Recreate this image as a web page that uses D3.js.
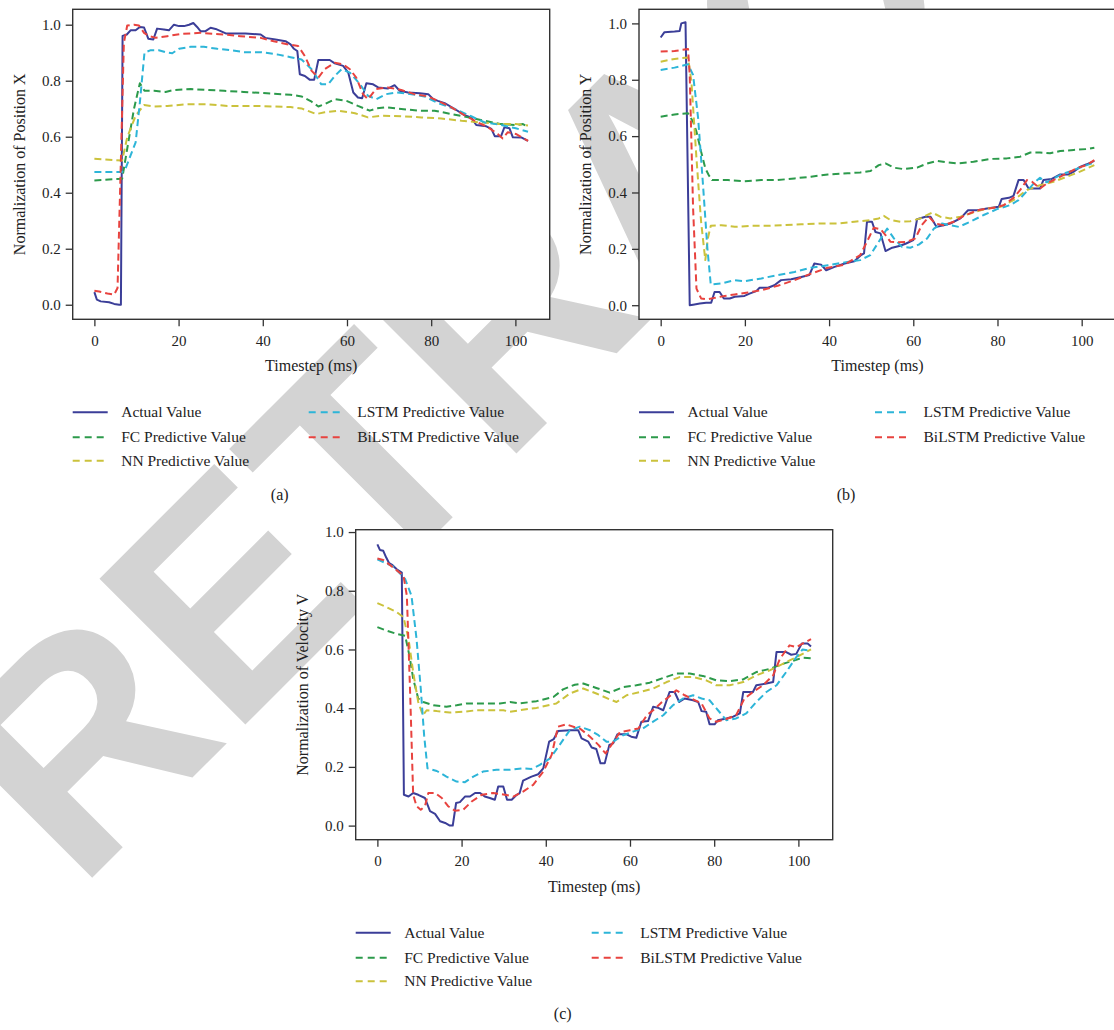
<!DOCTYPE html>
<html>
<head>
<meta charset="utf-8">
<script src="https://cdn.jsdelivr.net/npm/d3@7"></script>
<style>
    body { margin: 0; background: #fff; }
    text { font-family: "Liberation Serif", "Times New Roman", serif; fill: #222; }
</style>
</head>
<body>
<svg id="fig" width="1114" height="1030"></svg>
<script>
// ---- data: [timestep, normalized value] ----
const actualX = [[0,0.045],[0.6,0.018],[1.5,0.012],[3.5,0.009],[4.7,0.003],[5.9,0],[6.3,0],[6.7,0.96],[7.7,0.965],[8.6,0.98],[9.8,0.98],[10.8,0.992],[11.8,0.99],[12.8,0.95],[14,0.947],[14.9,0.986],[16.5,0.983],[17.7,0.98],[18.9,1.0],[20.1,0.995],[21.3,0.995],[22.5,1.0],[23.5,1.006],[24.4,0.992],[25.2,0.977],[26.4,0.977],[27.6,0.989],[28.8,0.985],[30,0.977],[31.2,0.969],[35.9,0.969],[39.5,0.965],[40.6,0.953],[43,0.947],[45.4,0.941],[46.6,0.93],[47.4,0.914],[48.2,0.906],[48.8,0.823],[50,0.817],[51.2,0.803],[52.2,0.803],[53.2,0.874],[55.9,0.874],[57.1,0.862],[59.1,0.853],[60.3,0.829],[61.5,0.758],[62.6,0.74],[63.6,0.737],[64.6,0.791],[66.2,0.787],[67.4,0.776],[69.7,0.772],[71.3,0.784],[72.5,0.764],[74.5,0.758],[77.3,0.755],[79.3,0.752],[80.5,0.734],[81.6,0.728],[83.2,0.72],[85.6,0.699],[87.9,0.677],[89.5,0.669],[90.7,0.642],[93.1,0.637],[94.3,0.628],[95.1,0.602],[96.6,0.602],[97.4,0.634],[98.6,0.63],[99.4,0.598],[101.5,0.597],[103,0.585]];
const fcX = [[0,0.444],[6.6,0.45],[7.8,0.557],[9.4,0.699],[10.8,0.791],[11.9,0.764],[14.2,0.764],[16.9,0.76],[18.9,0.767],[22.9,0.77],[26.8,0.767],[30.8,0.764],[35.5,0.76],[41,0.755],[46.6,0.75],[49.2,0.744],[51.6,0.725],[53.2,0.708],[54.7,0.716],[57.1,0.734],[59.9,0.728],[62.6,0.71],[65.4,0.693],[67,0.701],[69.3,0.705],[72.9,0.699],[76.9,0.693],[80.8,0.693],[84.8,0.681],[88.8,0.669],[92.7,0.657],[96.6,0.645],[100.1,0.642],[101.8,0.645],[103,0.635]];
const nnX = [[0,0.521],[6.6,0.515],[7.8,0.598],[9.8,0.675],[11.8,0.713],[14.2,0.708],[17.3,0.71],[22.1,0.716],[26.8,0.716],[31.6,0.71],[37.9,0.71],[46.6,0.706],[49.2,0.701],[52.7,0.681],[54.7,0.687],[57.9,0.693],[61.9,0.684],[65,0.669],[68.2,0.675],[72.9,0.673],[77.7,0.669],[82.4,0.665],[87.2,0.657],[91.9,0.651],[96.6,0.645],[100.1,0.645],[103,0.64]];
const lstmX = [[0,0.474],[6.6,0.474],[7.4,0.486],[8.6,0.533],[9.8,0.58],[10.8,0.722],[11.9,0.9],[13.4,0.909],[15.3,0.909],[16.9,0.902],[18.5,0.898],[20.1,0.914],[22.9,0.921],[26,0.921],[29.2,0.914],[32.3,0.909],[35.5,0.902],[39.5,0.902],[43.4,0.894],[46.6,0.884],[49.2,0.876],[51.6,0.841],[53.9,0.787],[55.5,0.787],[57.1,0.817],[58.7,0.841],[60.7,0.829],[63.1,0.787],[65,0.746],[67,0.734],[69.3,0.752],[71.7,0.758],[75.3,0.752],[78.4,0.744],[81.6,0.72],[85.6,0.699],[89.5,0.673],[92.7,0.651],[96.6,0.642],[100.1,0.63],[103,0.618]];
const bilstmX = [[0,0.05],[1.1,0.047],[3.1,0.04],[4.7,0.036],[5.5,0.06],[6.2,0.46],[7,0.935],[7.8,0.997],[9.4,1.0],[10.6,0.997],[11.8,0.971],[13,0.959],[14.6,0.953],[17.3,0.959],[20.5,0.967],[25.2,0.971],[30.8,0.965],[34.7,0.959],[39.5,0.953],[42.6,0.941],[45.8,0.93],[48.4,0.924],[50,0.888],[51.6,0.835],[53.2,0.811],[54.7,0.841],[57.1,0.864],[59.1,0.858],[60.7,0.841],[62.2,0.811],[63.8,0.752],[65,0.734],[66.9,0.77],[69.7,0.776],[72.9,0.767],[76,0.752],[79.2,0.744],[81.6,0.728],[84.8,0.705],[87.9,0.677],[91.1,0.651],[93.5,0.634],[95.8,0.61],[97,0.594],[98.2,0.616],[100.1,0.61],[101.8,0.595],[103,0.585]];

const actualY = [[0,0.95],[0.9,0.969],[3.3,0.971],[4.5,0.973],[4.9,1.0],[5.9,1.004],[6.9,0],[7.7,0.002],[9.3,0.006],[10.8,0.009],[12,0.009],[12.8,0.047],[14,0.047],[15,0.024],[16.4,0.024],[17.6,0.03],[19.9,0.033],[21.1,0.041],[22.7,0.05],[23.5,0.062],[25.5,0.062],[27,0.071],[28.6,0.089],[31,0.092],[33.4,0.1],[35.3,0.107],[36.5,0.148],[38.1,0.144],[39.3,0.124],[41.3,0.136],[43.7,0.148],[46,0.156],[47.6,0.178],[48.3,0.184],[49,0.296],[50.2,0.296],[51,0.26],[52.2,0.255],[53.4,0.192],[55,0.204],[56.9,0.211],[58.3,0.219],[60,0.231],[60.9,0.305],[62.9,0.314],[64.1,0.314],[65.5,0.278],[67.2,0.284],[68.8,0.29],[71.2,0.308],[73,0.337],[75.2,0.337],[77.5,0.343],[80.3,0.349],[81,0.377],[82.7,0.381],[83.8,0.388],[85,0.444],[86.2,0.444],[87.4,0.414],[90.1,0.414],[90.9,0.444],[92.9,0.448],[94.9,0.464],[96.9,0.464],[98.1,0.474],[99.6,0.491],[101.2,0.5],[103,0.512]];
const fcY = [[0,0.669],[3.3,0.677],[6.5,0.681],[7.7,0.651],[8.5,0.616],[9.6,0.545],[10.6,0.486],[11.4,0.462],[12.2,0.444],[16,0.444],[19.9,0.44],[23.9,0.444],[27.8,0.444],[31.8,0.45],[35.7,0.456],[39.7,0.464],[44.4,0.468],[47.4,0.471],[49.8,0.476],[51.8,0.497],[53.4,0.503],[55.4,0.488],[57.7,0.483],[60.9,0.488],[63.3,0.503],[65.6,0.512],[68,0.507],[70.4,0.503],[74.3,0.509],[78.3,0.519],[82.2,0.521],[85.4,0.527],[87.8,0.542],[90.1,0.542],[92.5,0.539],[94.9,0.547],[98.1,0.551],[101.2,0.554],[103,0.559]];
const nnY = [[0,0.864],[3.3,0.874],[6.5,0.879],[7.3,0.793],[8.5,0.521],[9.6,0.296],[10.6,0.16],[11.2,0.237],[11.9,0.282],[14.4,0.284],[17.6,0.278],[21.5,0.282],[25.5,0.282],[29.4,0.284],[33.4,0.287],[38.1,0.29],[42.1,0.29],[46,0.296],[49.8,0.302],[51.8,0.308],[53,0.317],[54.6,0.302],[57,0.296],[59.3,0.298],[61.7,0.308],[64.5,0.329],[66.4,0.314],[68.8,0.308],[71.2,0.314],[74.3,0.329],[77.5,0.343],[80.7,0.349],[83.8,0.373],[87,0.409],[90.1,0.426],[93.3,0.438],[96.5,0.456],[99.6,0.474],[103,0.497]];
const lstmY = [[0,0.835],[3.3,0.843],[6.5,0.855],[7.7,0.817],[8.9,0.663],[10,0.438],[11.1,0.201],[11.9,0.073],[14.4,0.077],[17.6,0.089],[19.9,0.085],[23.9,0.095],[27.8,0.107],[31.8,0.118],[35.7,0.133],[39.7,0.142],[43.7,0.152],[47.4,0.16],[49.8,0.178],[51.8,0.225],[53.8,0.272],[55.4,0.237],[57.3,0.207],[59.3,0.204],[61.3,0.215],[63.3,0.237],[64.9,0.272],[66.8,0.29],[68.8,0.284],[70.8,0.278],[73.5,0.296],[76.7,0.32],[79.9,0.341],[83,0.355],[85,0.373],[87,0.405],[89,0.438],[90.1,0.452],[91.7,0.436],[94.9,0.462],[98.1,0.48],[101.2,0.497],[103,0.507]];
const bilstmY = [[0,0.9],[3.3,0.902],[6.5,0.909],[6.9,0.817],[7.7,0.343],[8.5,0.059],[9.6,0.024],[11.2,0.021],[12.8,0.026],[15.2,0.033],[17.6,0.038],[20.7,0.045],[23.9,0.053],[27.8,0.069],[31.8,0.089],[35.7,0.112],[39.7,0.133],[43.7,0.144],[47.4,0.178],[49,0.225],[50.6,0.275],[52.2,0.27],[53.4,0.249],[54.6,0.225],[56.2,0.223],[58.5,0.225],[60.5,0.237],[62,0.284],[63.7,0.314],[65.2,0.29],[67.2,0.284],[69.6,0.296],[72,0.317],[75.2,0.337],[79.1,0.346],[81.5,0.355],[83.8,0.381],[85.4,0.409],[87,0.444],[88.2,0.438],[90.1,0.414],[91.7,0.432],[94.1,0.45],[96.5,0.468],[98.8,0.486],[101.2,0.497],[103,0.515]];

const actualV = [[0,0.958],[0.6,0.939],[1.4,0.936],[2.1,0.913],[2.8,0.894],[3.6,0.887],[4.6,0.873],[5.8,0.862],[6.3,0.105],[7.4,0.099],[8.5,0.111],[9.7,0.105],[11.3,0.094],[12.5,0.049],[13.7,0.04],[14.9,0.015],[16.1,0.009],[17.2,0],[17.9,0],[18.7,0.077],[19.6,0.08],[20.8,0.099],[22,0.099],[23.2,0.111],[24.4,0.111],[25.5,0.099],[26.7,0.094],[27.9,0.088],[28.7,0.133],[29.9,0.133],[30.8,0.088],[31.9,0.088],[33.1,0.105],[33.8,0.111],[34.6,0.153],[36.6,0.167],[38.2,0.175],[39.4,0.195],[40.8,0.286],[41.9,0.295],[42.9,0.322],[45.8,0.325],[47.7,0.325],[48.5,0.297],[50.1,0.286],[50.9,0.266],[52,0.261],[53,0.212],[54,0.212],[55.1,0.275],[56,0.28],[57,0.311],[59.2,0.311],[60.3,0.303],[61.5,0.299],[62.7,0.354],[64.3,0.356],[65.5,0.405],[66.7,0.401],[67.9,0.393],[69.4,0.455],[70.6,0.455],[71.7,0.421],[73,0.433],[75,0.427],[76.2,0.421],[77,0.39],[78.1,0.388],[78.9,0.345],[80.1,0.345],[80.9,0.359],[82.9,0.365],[84.5,0.371],[86.1,0.382],[86.9,0.455],[89.2,0.455],[90,0.478],[92.4,0.484],[94,0.489],[94.8,0.591],[97.1,0.591],[98.3,0.582],[99.5,0.585],[100.8,0.62],[102.2,0.62],[103,0.61]];
const fcV = [[0,0.676],[2.2,0.664],[4.6,0.653],[6.6,0.647],[7.6,0.58],[8.5,0.501],[9.7,0.433],[10.9,0.421],[13.3,0.41],[16.4,0.405],[18.8,0.41],[21.2,0.416],[25.1,0.416],[29.1,0.416],[31.5,0.421],[33.8,0.416],[37.8,0.424],[41.8,0.438],[44.1,0.464],[46.9,0.48],[48.9,0.484],[52,0.469],[55.2,0.453],[58.4,0.472],[61.5,0.478],[64.7,0.487],[67.9,0.503],[71,0.518],[74.2,0.518],[77.3,0.51],[80.5,0.495],[83.7,0.492],[86.9,0.498],[90,0.523],[93.2,0.534],[96.3,0.551],[99.5,0.565],[101,0.572],[103,0.57]];
const nnV = [[0,0.758],[2.2,0.744],[4.6,0.727],[6.2,0.71],[7.4,0.636],[8.5,0.523],[9.7,0.421],[10.8,0.376],[11.7,0.393],[14.1,0.39],[17.2,0.385],[20.4,0.388],[23.6,0.393],[26.7,0.393],[29.9,0.393],[31.5,0.388],[33.8,0.393],[37.8,0.401],[42.5,0.416],[45.7,0.45],[48.9,0.467],[52,0.45],[55.2,0.43],[56.8,0.421],[59.2,0.444],[62.3,0.455],[65.5,0.467],[68.7,0.489],[71.8,0.506],[75,0.506],[78.1,0.495],[80.5,0.478],[83.7,0.478],[86.9,0.489],[90,0.512],[93.2,0.529],[96.3,0.551],[99.5,0.574],[103,0.6]];
const lstmV = [[0,0.907],[3.8,0.882],[6.6,0.84],[8.1,0.783],[9.3,0.636],[10.3,0.467],[11.1,0.308],[11.9,0.195],[14.1,0.186],[16.4,0.167],[18.8,0.15],[20.8,0.148],[22.8,0.167],[25.1,0.184],[28.3,0.19],[31.5,0.19],[34.6,0.195],[36.6,0.193],[38.6,0.207],[41,0.229],[43.3,0.275],[45.7,0.325],[48.1,0.337],[50.5,0.325],[52.5,0.308],[54.4,0.286],[56,0.286],[58.4,0.308],[60.7,0.32],[63.1,0.331],[65.5,0.354],[67.9,0.376],[70.2,0.41],[72.6,0.433],[75,0.444],[77,0.433],[78.9,0.427],[80.9,0.393],[82.9,0.359],[85.2,0.365],[87.6,0.382],[90,0.421],[92.4,0.455],[94.8,0.478],[97.1,0.523],[99.5,0.574],[101,0.6],[103,0.595]];
const bilstmV = [[0,0.91],[1.4,0.905],[3.8,0.879],[6.2,0.851],[7,0.783],[7.8,0.444],[8.5,0.105],[9.3,0.066],[10.3,0.054],[11.3,0.066],[12.1,0.111],[13.7,0.111],[15.3,0.094],[16.8,0.066],[18.4,0.051],[20.4,0.054],[22.4,0.082],[24.8,0.105],[27.5,0.111],[30.3,0.105],[32.3,0.099],[34.6,0.116],[37,0.139],[39.4,0.184],[41.4,0.241],[42.9,0.337],[44.9,0.345],[46.9,0.335],[48.1,0.331],[50.5,0.303],[52.5,0.275],[54.2,0.246],[55.6,0.275],[57.6,0.318],[60,0.325],[62,0.331],[64,0.376],[66,0.399],[67.6,0.421],[69.2,0.438],[71,0.461],[73,0.444],[75,0.43],[77,0.416],[78.9,0.365],[80.5,0.354],[82.9,0.363],[85.2,0.376],[87.2,0.433],[89.2,0.455],[91.6,0.478],[94,0.512],[95.6,0.568],[97.9,0.614],[99.5,0.608],[101,0.62],[103,0.635]];

const seriesNames = ['Actual Value', 'FC Predictive Value', 'NN Predictive Value', 'LSTM Predictive Value', 'BiLSTM Predictive Value'];
const seriesColors = ['#3b3e98', '#2c9a4b', '#cbc23c', '#2db5d8', '#e8433f'];
const xTicks = [0, 20, 40, 60, 80, 100];
const yTicks = [0, 0.2, 0.4, 0.6, 0.8, 1.0];
const yLabels = ['Normalization of Position X', 'Normalization of Position Y', 'Normalization of Velocity V'];
const captions = ['(a)', '(b)', '(c)'];

// ---- layout ----
const plotW = 477, plotH = 310;
const panels = [
    { left: 72.7, top: 9.3, yDomain: [-0.052, 1.055], series: [actualX, fcX, nnX, lstmX, bilstmX], captionY: 500 },
    { left: 639, top: 9.3, yDomain: [-0.05, 1.05], series: [actualY, fcY, nnY, lstmY, bilstmY], captionY: 500 },
    { left: 355.7, top: 529.7, yDomain: [-0.048, 1.008], series: [actualV, fcV, nnV, lstmV, bilstmV], captionY: 1019 }
];

let svg = d3.select('#fig');
svg.append('rect').attr('width', 1114).attr('height', 1030).attr('fill', '#fff');

// watermark behind everything
svg.append('text')
    .text('RETRACTED')
    .attr('transform', 'translate(78,892) rotate(-45)')
    .style('font-family', '"Liberation Sans", Arial, sans-serif')
    .style('font-weight', 'bold')
    .style('font-size', '300px')
    .style('fill', '#d3d3d3');

panels.forEach((p, i) => drawPanel(p, i));

function drawPanel(p, idx) {
    let g = svg.append('g').attr('transform', `translate(${p.left},${p.top})`);

    let x = d3.scaleLinear().domain([-5.15, 108.15]).range([0, plotW]);
    let y = d3.scaleLinear().domain(p.yDomain).range([plotH, 0]);

    g.append('rect')
        .attr('width', plotW).attr('height', plotH)
        .attr('fill', '#fff');

    let line = d3.line()
        .x(d => x(d[0]))
        .y(d => y(d[1]));

    p.series.forEach((s, k) => {
        g.append('path')
            .datum(s)
            .attr('d', line)
            .attr('fill', 'none')
            .attr('stroke', seriesColors[k])
            .attr('stroke-width', 2)
            .attr('stroke-linejoin', 'round')
            .attr('stroke-dasharray', k === 0 ? null : '7,4');
    });

    // frame
    g.append('rect')
        .attr('width', plotW).attr('height', plotH)
        .attr('fill', 'none')
        .attr('stroke', '#333')
        .attr('stroke-width', 1.4);

    let xAxis = g.append('g')
        .attr('transform', `translate(0,${plotH})`)
        .call(d3.axisBottom(x).tickValues(xTicks).tickSize(7).tickPadding(5).tickFormat(d3.format('d')));
    let yAxis = g.append('g')
        .call(d3.axisLeft(y).tickValues(yTicks).tickSize(7).tickPadding(5).tickFormat(d3.format('.1f')));

    [xAxis, yAxis].forEach(a => {
        a.select('.domain').remove();
        a.selectAll('line').attr('stroke', '#333').attr('stroke-width', 1.3);
        a.selectAll('text')
            .style('font-family', '"Liberation Serif", serif')
            .style('font-size', '15px')
            .attr('fill', '#222');
    });
    xAxis.selectAll('text').attr('dy', '0.95em');

    g.append('text')
        .attr('x', plotW / 2).attr('y', plotH + 52)
        .attr('text-anchor', 'middle')
        .style('font-size', '16px')
        .text('Timestep (ms)');

    g.append('text')
        .attr('transform', `translate(-48,${plotH / 2}) rotate(-90)`)
        .attr('text-anchor', 'middle')
        .style('font-size', '16px')
        .text(yLabels[idx]);

    // legend, two columns filled column-first
    let rows = [403, 428, 451.5];
    seriesNames.forEach((name, k) => {
        let col = k < 3 ? 0 : 1;
        let row = k < 3 ? k : k - 3;
        let lx = col === 0 ? 0 : 236;
        let ly = rows[row];
        g.append('line')
            .attr('x1', lx).attr('x2', lx + 35)
            .attr('y1', ly).attr('y2', ly)
            .attr('stroke', seriesColors[k])
            .attr('stroke-width', 2)
            .attr('stroke-dasharray', k === 0 ? null : '7,5');
        g.append('text')
            .attr('x', lx + 48.5).attr('y', ly + 5)
            .style('font-size', '15.5px')
            .text(name);
    });

    svg.append('text')
        .attr('x', p.left + 207).attr('y', p.captionY)
        .attr('text-anchor', 'middle')
        .style('font-size', '16px')
        .text(captions[idx]);
}
</script>
</body>
</html>
